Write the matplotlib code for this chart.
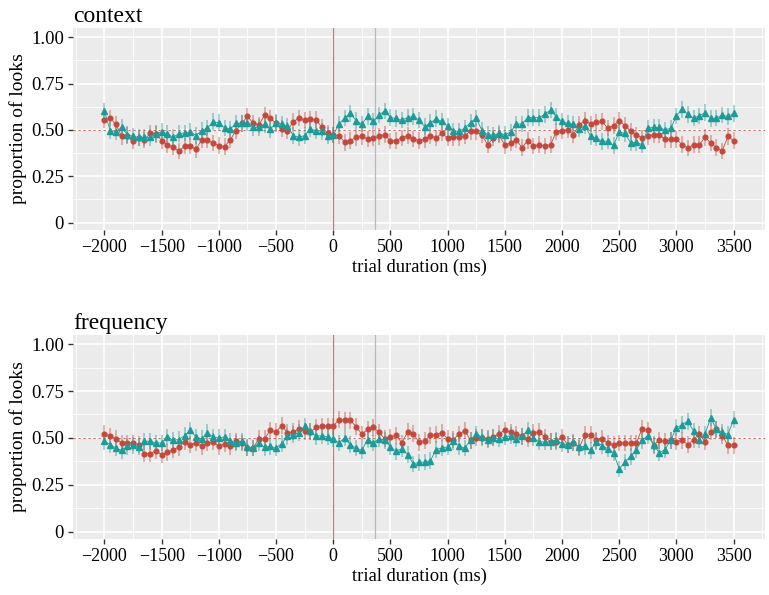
import numpy as np
import matplotlib
matplotlib.use("Agg")
import matplotlib.pyplot as plt
from matplotlib.ticker import MultipleLocator

# time bins (ms), 50 ms steps
time_ms = list(range(-2000, 3501, 50))

# context panel
context_red = [
    0.555, 0.564, 0.530, 0.466, 0.470, 0.440, 0.457, 0.445, 0.484, 0.480,
    0.443, 0.420, 0.408, 0.386, 0.413, 0.415, 0.395, 0.447, 0.445, 0.430,
    0.415, 0.410, 0.447, 0.497, 0.535, 0.573, 0.537, 0.527, 0.580, 0.564,
    0.535, 0.507, 0.497, 0.544, 0.564, 0.553, 0.557, 0.555, 0.514, 0.484,
    0.472, 0.470, 0.434, 0.443, 0.460, 0.465, 0.452, 0.457, 0.465, 0.475,
    0.440, 0.443, 0.457, 0.470, 0.452, 0.443, 0.450, 0.470, 0.457, 0.484,
    0.456, 0.460, 0.460, 0.470, 0.493, 0.493, 0.472, 0.420, 0.457, 0.473,
    0.417, 0.430, 0.447, 0.404, 0.443, 0.413, 0.420, 0.413, 0.420, 0.491,
    0.497, 0.500, 0.475, 0.528, 0.550, 0.532, 0.541, 0.546, 0.510, 0.523,
    0.550, 0.523, 0.493, 0.473, 0.457, 0.466, 0.475, 0.475, 0.450, 0.450,
    0.450, 0.420, 0.402, 0.420, 0.420, 0.461, 0.430, 0.404, 0.387, 0.465,
    0.443,
]
context_teal = [
    0.603, 0.497, 0.490, 0.514, 0.475, 0.466, 0.460, 0.460, 0.460, 0.477,
    0.490, 0.480, 0.460, 0.480, 0.484, 0.490, 0.470, 0.497, 0.510, 0.544,
    0.540, 0.510, 0.505, 0.535, 0.535, 0.540, 0.514, 0.514, 0.530, 0.504,
    0.540, 0.532, 0.520, 0.470, 0.460, 0.470, 0.505, 0.497, 0.493, 0.470,
    0.472, 0.532, 0.564, 0.590, 0.550, 0.532, 0.573, 0.546, 0.580, 0.603,
    0.567, 0.562, 0.553, 0.567, 0.573, 0.553, 0.518, 0.539, 0.560, 0.546,
    0.520, 0.493, 0.493, 0.510, 0.540, 0.564, 0.497, 0.475, 0.472, 0.482,
    0.475, 0.488, 0.532, 0.532, 0.567, 0.567, 0.567, 0.585, 0.608, 0.571,
    0.546, 0.535, 0.532, 0.505, 0.523, 0.466, 0.457, 0.438, 0.440, 0.417,
    0.488, 0.482, 0.430, 0.434, 0.420, 0.509, 0.514, 0.514, 0.500, 0.509,
    0.576, 0.612, 0.585, 0.564, 0.576, 0.594, 0.562, 0.564, 0.580, 0.573,
    0.589,
]

# frequency panel
frequency_red = [
    0.523, 0.509, 0.496, 0.473, 0.473, 0.473, 0.464, 0.416, 0.416, 0.432,
    0.410, 0.423, 0.437, 0.450, 0.479, 0.464, 0.473, 0.455, 0.473, 0.479,
    0.455, 0.468, 0.455, 0.482, 0.473, 0.446, 0.446, 0.496, 0.496, 0.541,
    0.532, 0.566, 0.527, 0.532, 0.548, 0.536, 0.532, 0.557, 0.563, 0.563,
    0.563, 0.598, 0.595, 0.595, 0.559, 0.521, 0.545, 0.557, 0.530, 0.495,
    0.505, 0.514, 0.473, 0.532, 0.523, 0.477, 0.486, 0.514, 0.518, 0.527,
    0.495, 0.491, 0.521, 0.539, 0.488, 0.500, 0.500, 0.495, 0.504, 0.523,
    0.541, 0.530, 0.521, 0.509, 0.496, 0.527, 0.532, 0.505, 0.479, 0.479,
    0.504, 0.464, 0.473, 0.446, 0.518, 0.518, 0.488, 0.495, 0.473, 0.464,
    0.473, 0.473, 0.473, 0.473, 0.550, 0.541, 0.459, 0.488, 0.482, 0.488,
    0.479, 0.488, 0.464, 0.491, 0.521, 0.479, 0.532, 0.545, 0.512, 0.461,
    0.461,
]
frequency_teal = [
    0.482, 0.464, 0.446, 0.434, 0.455, 0.461, 0.452, 0.482, 0.482, 0.473,
    0.473, 0.505, 0.488, 0.491, 0.512, 0.541, 0.505, 0.495, 0.527, 0.505,
    0.500, 0.505, 0.482, 0.473, 0.482, 0.450, 0.446, 0.473, 0.450, 0.455,
    0.446, 0.470, 0.509, 0.518, 0.527, 0.563, 0.536, 0.509, 0.512, 0.505,
    0.495, 0.473, 0.500, 0.464, 0.446, 0.434, 0.491, 0.473, 0.495, 0.488,
    0.452, 0.429, 0.443, 0.411, 0.361, 0.370, 0.371, 0.379, 0.438, 0.446,
    0.452, 0.482, 0.455, 0.446, 0.488, 0.521, 0.505, 0.491, 0.500, 0.495,
    0.505, 0.512, 0.496, 0.509, 0.541, 0.500, 0.479, 0.479, 0.479, 0.488,
    0.470, 0.464, 0.477, 0.452, 0.455, 0.434, 0.479, 0.459, 0.443, 0.420,
    0.334, 0.371, 0.402, 0.438, 0.488, 0.512, 0.464, 0.420, 0.438, 0.488,
    0.554, 0.571, 0.589, 0.536, 0.491, 0.521, 0.607, 0.545, 0.530, 0.518,
    0.598,
]

panel_titles = ["context", "frequency"]
err_half = 0.045  # approx. half-length of the error bars
onset_ms = 0
marker_ms = 365
chance = 0.5

red = "#c4493c"
teal = "#1c9c98"

plt.rcParams["font.family"] = ["Liberation Serif", "DejaVu Serif"]

fig = plt.figure(figsize=(7.69, 5.95), dpi=100)
ax_top = fig.add_axes([0.0949, 0.6134, 0.9, 0.3395])
ax_bot = fig.add_axes([0.0949, 0.0941, 0.9, 0.343])

panels = [
    (ax_top, context_red, context_teal),
    (ax_bot, frequency_red, frequency_teal),
]

xt = list(range(-2500, 4001, 500))
xt_labels = [f"\u2212{abs(v)}" if v < 0 else str(v) for v in xt]

t = np.array(time_ms)
for (ax, s_red, s_teal), title in zip(panels, panel_titles):
    ax.set_facecolor("#ebebeb")
    for sp in ax.spines.values():
        sp.set_visible(False)

    ax.set_xticks(xt)
    ax.set_xticklabels(xt_labels)
    ax.xaxis.set_minor_locator(MultipleLocator(250))
    ax.set_xlim(-2275, 3775)
    ax.set_ylim(-0.04, 1.05)
    ax.set_yticks([0, 0.25, 0.5, 0.75, 1.0])
    ax.set_yticklabels(["0", "0.25", "0.50", "0.75", "1.00"])
    ax.yaxis.set_minor_locator(MultipleLocator(0.125))

    ax.grid(which="major", color="white", lw=1.2)
    ax.grid(which="minor", color="white", lw=0.6)
    ax.set_axisbelow(True)
    ax.tick_params(which="major", length=3.5, width=1, color="#333333",
                   labelsize=13, labelcolor="black", pad=3)
    ax.tick_params(axis="y", which="major", labelsize=13.5)
    ax.tick_params(which="minor", length=0)

    ax.axhline(chance, color=red, lw=0.8, ls=(0, (2, 2.5)), alpha=0.8, zorder=1)
    ax.axvline(onset_ms, color=red, lw=0.9, alpha=0.75, zorder=1)
    ax.axvline(marker_ms, color="#b8b8b8", lw=0.9, zorder=1)

    ax.errorbar(t, s_red, yerr=err_half, fmt="none", ecolor=red,
                alpha=0.5, elinewidth=1.1, zorder=2)
    ax.plot(t, s_red, color=red, lw=0.6, marker="o", ms=3.4, zorder=3)
    ax.errorbar(t, s_teal, yerr=err_half, fmt="none", ecolor=teal,
                alpha=0.5, elinewidth=1.1, zorder=2)
    ax.plot(t, s_teal, color=teal, lw=0.6, marker="^", ms=3.8, zorder=4)

    ax.set_xlabel("trial duration (ms)", fontsize=13.3, labelpad=2)
    ax.set_ylabel("proportion of looks", fontsize=14, labelpad=3)
    ax.set_title(title, loc="left", fontsize=17, pad=4)

fig.savefig("out.png", dpi=100)
